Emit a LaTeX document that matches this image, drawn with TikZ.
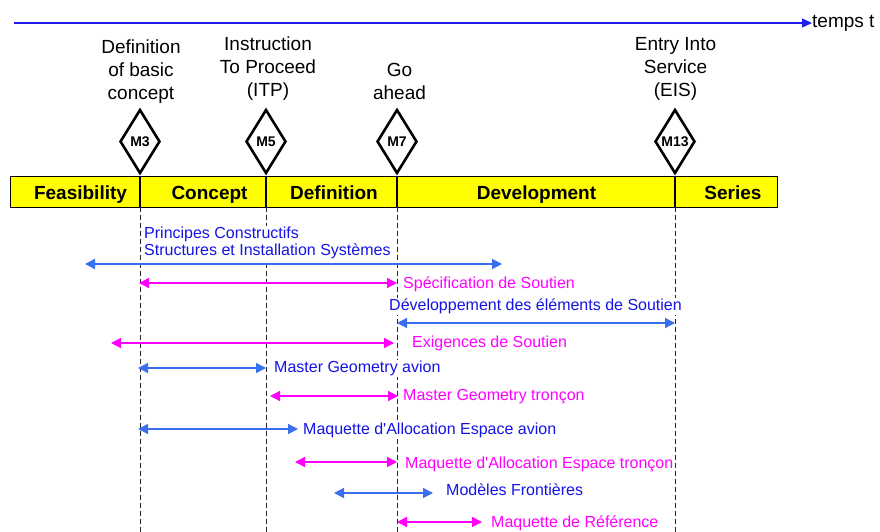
\documentclass[tikz,border=0pt]{standalone}
\usepackage{fontspec}
\setmainfont{Liberation Sans}
\newfontfamily\apfont{Liberation Sans}[Ligatures=ResetAll]
\usetikzlibrary{arrows.meta,shapes.geometric}
\definecolor{txtblue}{RGB}{20,20,230}
\definecolor{arrblue}{RGB}{60,110,240}
\definecolor{mag}{RGB}{255,0,255}
\definecolor{topblue}{RGB}{30,30,240}
\definecolor{baryellow}{RGB}{255,255,0}
\newcommand{\apos}{{\apfont'}}
\tikzset{
 mslabel/.style={align=center,font=\fontsize{19}{23}\selectfont,anchor=south,inner sep=0pt},
 msdiamond/.style={diamond,draw=black,line width=2.6pt,fill=white,minimum width=40pt,minimum height=64pt,inner sep=0pt,font=\fontsize{14}{14}\selectfont\bfseries},
 phase/.style={font=\fontsize{19}{19}\selectfont\bfseries,anchor=base,inner sep=0pt},
 guide/.style={dash pattern=on 5pt off 3pt,line width=1pt,black!85},
 divider/.style={line width=2pt},
 both/.style={line width=1.4pt,{Triangle[length=10pt,width=10pt]}-{Triangle[length=10pt,width=10pt]}},
 barr/.style={both,arrblue},
 marr/.style={both,mag},
 btxt/.style={anchor=base west,font=\fontsize{16}{17}\selectfont,text=txtblue,fill=white,inner sep=1pt},
 mtxt/.style={btxt,text=mag},
}
\begin{document}
\begin{tikzpicture}[x=1pt,y=-1pt]
\useasboundingbox (0,0) rectangle (880,532);
% time axis
\coordinate (tstart) at (14,23);
\node[anchor=west,inner sep=0pt,font=\fontsize{19}{19}\selectfont] (temps) at (812,23) {temps t};
\draw[topblue,line width=1.3pt,-{Triangle[length=10pt,width=9pt]}] (tstart) -- (temps.west);
% bar
\node[draw=black,line width=1.2pt,fill=baryellow,anchor=north west,minimum width=767pt,minimum height=31pt,inner sep=0pt] (bar) at (10,176) {};
% guide coordinates
\foreach \n/\x in {3/140,5/266,7/397,13/675}{
  \coordinate (top\n) at (\x,176);
  \coordinate (bot\n) at (\x,207);
  \coordinate (end\n) at (\x,532);
  \draw[divider] (top\n) -- (bot\n);
  \draw[guide] (bot\n) -- (end\n);
}
% phases
\node[phase] (feas) at (80.5,199) {Feasibility};
\node[phase] (conc) at (209.5,199) {Concept};
\node[phase] (defi) at (334,199) {Definition};
\node[phase] (deve) at (536.5,199) {Development};
\node[phase] (seri) at (733,199) {Series};
% milestones
\node[msdiamond] (M3) at (140,141.5) {M3};
\node[msdiamond] (M5) at (266,141.5) {M5};
\node[msdiamond] (M7) at (397,141.5) {M7};
\node[msdiamond] (M13) at (675,141.5) {M13};
\node[mslabel] (l3) at (141,104) {Definition\\of basic\\concept};
\node[mslabel] (l5) at (268,101) {Instruction\\To Proceed\\(ITP)};
\node[mslabel] (l7) at (399.5,99.5) {Go\\ahead};
\node[mslabel] (l13) at (675.5,101) {Entry Into\\Service\\(EIS)};
% activity labels
\node[btxt,anchor=west,align=left] (t1) at (143,243) {Principes Constructifs\\Structures et Installation Systèmes};
\node[mtxt] (t2) at (402,288.7) {Spécification de Soutien};
\node[btxt] (t3) at (388,310.7) {Développement des éléments de Soutien};
\node[mtxt] (t4) at (411,347.7) {Exigences de Soutien};
\node[btxt] (t5) at (273,372.7) {Master Geometry avion};
\node[mtxt] (t6) at (402,400.7) {Master Geometry tronçon};
\node[btxt] (t7) at (302,434.7) {Maquette d\apos Allocation Espace avion};
\node[mtxt] (t8) at (404,468.7) {Maquette d\apos Allocation Espace tronçon};
\node[btxt] (t9) at (445,495.7) {Modèles Frontières};
\node[mtxt] (t10) at (490,527.7) {Maquette de Référence};
% arrow end points
\coordinate (a1l) at (85,264);   \coordinate (a1r) at (502,264);
\coordinate (a2l) at (139,283);  \coordinate (a2r) at (397,283);
\coordinate (a3l) at (397,323);  \coordinate (a3r) at (675,323);
\coordinate (a4l) at (111,343);  \coordinate (a4r) at (394,343);
\coordinate (a5l) at (138,368);  \coordinate (a5r) at (266,368);
\coordinate (a6l) at (270,396);  \coordinate (a6r) at (398,396);
\coordinate (a7l) at (138,429);  \coordinate (a7r) at (298,429);
\coordinate (a8l) at (295,462);  \coordinate (a8r) at (397,462);
\coordinate (a9l) at (334,493);  \coordinate (a9r) at (433,493);
\coordinate (a10l) at (397,522); \coordinate (a10r) at (482,522);
\draw[barr] (a1l) -- (a1r);
\draw[marr] (a2l) -- (a2r);
\draw[barr] (a3l) -- (a3r);
\draw[marr] (a4l) -- (a4r);
\draw[barr] (a5l) -- (a5r);
\draw[marr] (a6l) -- (a6r);
\draw[barr] (a7l) -- (a7r);
\draw[marr] (a8l) -- (a8r);
\draw[barr] (a9l) -- (a9r);
\draw[marr] (a10l) -- (a10r);
\end{tikzpicture}
\end{document}
